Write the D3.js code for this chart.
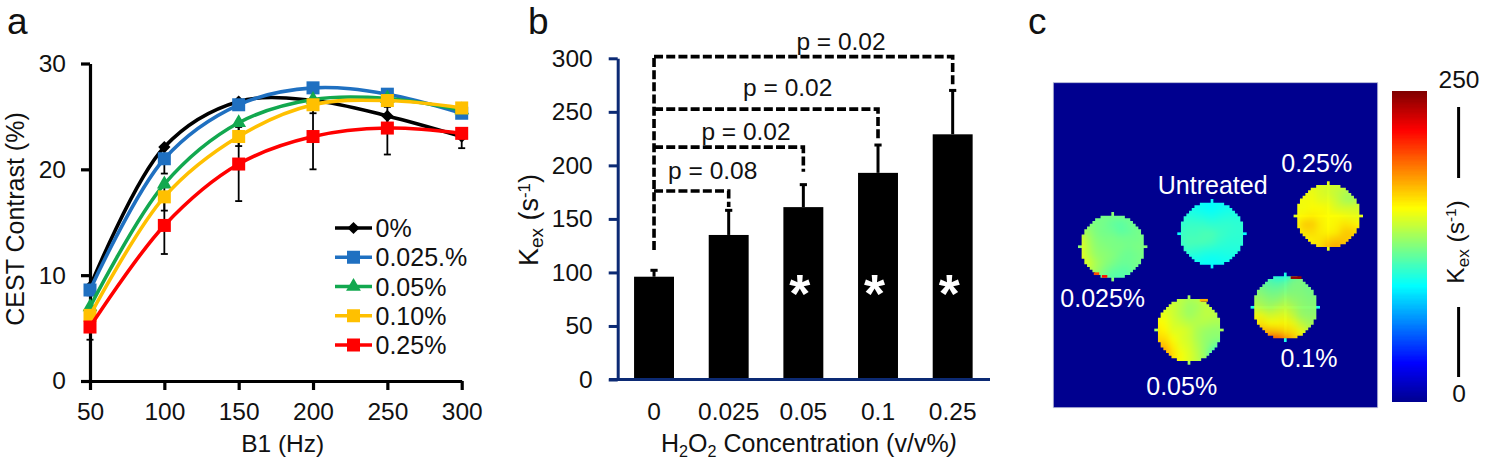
<!DOCTYPE html>
<html><head><meta charset="utf-8">
<script src="https://cdn.jsdelivr.net/npm/d3@7"></script>
<style>
html,body{margin:0;padding:0;background:#fff}
svg{display:block}
text{font-family:"Liberation Sans",Arial,sans-serif;fill:#111}
</style></head><body>
<div id="chart"></div>
<script>
// ---- Panel a ----
const b1Values = [50,100,150,200,250,300];
const seriesNames = ["0%","0.025.%","0.05%","0.10%","0.25%"];
const contrast0 = [8.9,22.1,26.4,26.5,25.05,23.1];
const contrast025 = [8.6,21.0,26.1,27.7,27.1,25.3];
const contrast05 = [7.0,18.6,24.4,26.6,26.7,25.6];
const contrast10 = [6.2,17.4,23.1,26.1,26.5,25.8];
const contrast25 = [5.1,14.7,20.5,23.1,23.9,23.4];
const err0 = [0.7,1.6,0.6,0.8,0.7,1.1];
const err025 = [0.5,1.4,0.5,0.5,0.5,0.4];
const err05 = [0.6,1.0,0.8,0.5,0.5,0.4];
const err10 = [0.6,1.3,0.9,0.8,0.6,0.3];
const err25 = [1.2,2.7,3.5,3.1,2.5,0.5];
const yTicksA = [0,10,20,30];
// ---- Panel b ----
const concentrations = ["0","0.025","0.05","0.1","0.25"];
const kex = [96,135,161,193,229];
const kexErrTop = [102,158,182,219,270];
const starred = [false,false,true,true,true];
const yTicksB = [0,50,100,150,200,250,300];
const bracketTo = [1,2,3,4];
const bracketLevel = [176,217,252.5,301.6];
const bracketEnd = [161,194,224,273];
const bracketStart = 121;
const bracketText = ["p = 0.08","p = 0.02","p = 0.02","p = 0.02"];
// ---- Panel c (Kex maps, s^-1) ----
const mapUntreated = [
[98,98,97,95,94,96,98,98,98],[100,100,98,96,95,97,99,99,99],[104,104,103,102,100,102,103,103,103],
[106,108,108,108,106,106,106,105,105],[108,110,110,112,112,108,106,105,105],[108,112,112,112,110,106,104,104,104],
[106,108,106,104,103,102,102,102,102],[100,100,100,98,97,98,99,100,100],[96,96,96,95,95,96,97,98,98]];
const map025 = [
[122,122,122,124,124,124,122,122,122],[126,126,124,122,118,116,120,122,122],[134,130,124,122,120,116,118,122,124],
[148,134,126,124,124,122,122,122,124],[150,136,128,126,124,124,122,124,124],[150,138,130,128,126,122,120,122,124],
[150,144,134,128,124,120,120,122,124],[146,140,132,124,118,116,116,122,124],[140,136,128,118,114,114,116,122,124]];
const map05 = [
[142,142,142,140,136,138,146,146,138],[146,146,144,138,132,134,140,140,136],[152,150,144,138,132,136,140,140,136],
[158,154,146,142,138,138,138,136,136],[162,158,148,148,144,136,132,130,130],[166,164,154,148,144,136,130,128,128],
[174,172,160,150,146,138,130,122,112],[182,180,164,154,148,140,130,110,95],[184,178,162,154,148,140,132,120,100]];
const map10 = [
[112,112,108,100,100,115,125,125,125],[122,120,116,114,118,125,125,122,122],[128,126,122,122,125,126,126,124,124],
[134,132,128,128,134,130,128,126,126],[142,138,134,138,142,136,130,128,128],[154,152,146,148,150,142,132,130,130],
[160,162,156,156,158,152,142,135,135],[166,174,172,170,166,162,152,142,138],[172,184,196,198,186,172,160,150,146]];
const map25 = [
[150,150,150,148,146,146,146,146,146],[152,152,152,148,146,142,138,135,140],[154,154,154,150,150,144,136,134,142],
[154,154,156,156,154,148,146,146,146],[156,158,160,158,156,156,154,152,150],[158,168,168,160,156,158,162,160,156],
[158,164,164,160,158,160,168,168,164],[156,158,160,162,166,170,170,168,164],[154,156,160,164,174,178,170,164,160]];
const mapLabels = ["0.025%","Untreated","0.25%","0.1%","0.05%"];
const nubKex = [128,95,150,100,135];
const kexTicks = ["0","250"];

const W=1486,H=463;
const svg=d3.select("#chart").append("svg").attr("width",W).attr("height",H);
const FS=24.5;
function txt(g,x,y,s,o={}){
  const t=g.append("text").attr("x",x).attr("y",y).attr("font-size",o.fs||FS)
    .attr("text-anchor",o.anchor||"middle").text(s);
  if(o.fill)t.style("fill",o.fill);
  if(o.weight)t.attr("font-weight",o.weight);
  return t;
}
function kexLabel(g,x,y,fs){
  const t=g.append("text").attr("transform",`translate(${x},${y}) rotate(-90)`)
    .attr("text-anchor","middle").attr("font-size",fs);
  t.append("tspan").text("K");
  t.append("tspan").attr("font-size",fs*.7).attr("dy",5).text("ex");
  t.append("tspan").attr("dy",-5).text(" (s");
  t.append("tspan").attr("font-size",fs*.62).attr("dy",-8).text("-1");
  t.append("tspan").attr("dy",8).text(")");
}
txt(svg,7,34,"a",{fs:37,anchor:"start"});
txt(svg,528,34,"b",{fs:37,anchor:"start"});
txt(svg,1028,34,"c",{fs:37,anchor:"start"});

// ===== Panel a =====
const gA=svg.append("g");
const xA=d3.scaleLinear().domain([50,300]).range([90,461.7]);
const yA=d3.scaleLinear().domain([0,30]).range([381,63.5]);
const lineSeries=[
 {name:seriesNames[0],v:contrast0,e:err0,c:"#000000",m:"diamond"},
 {name:seriesNames[1],v:contrast025,e:err025,c:"#1f70c1",m:"square"},
 {name:seriesNames[2],v:contrast05,e:err05,c:"#12a84f",m:"triangle"},
 {name:seriesNames[3],v:contrast10,e:err10,c:"#ffc000",m:"square"},
 {name:seriesNames[4],v:contrast25,e:err25,c:"#ff0000",m:"square",up:true}];
function marker(g,kind,x,y,c){
  if(kind==="square"){g.append("rect").attr("x",x-6.5).attr("y",y-6.5).attr("width",13).attr("height",13).attr("fill",c);}
  else{
    const sym=kind==="diamond"?d3.symbolDiamond2||d3.symbolDiamond:d3.symbolTriangle;
    g.append("path").attr("transform",`translate(${x},${y})`).attr("fill",c)
     .attr("d",d3.symbol().type(sym).size(kind==="diamond"?95:95)());
  }
}
// axes
const axYA=gA.append("g").attr("transform","translate(90,0)")
  .call(d3.axisLeft(yA).tickValues(yTicksA).tickSize(9).tickPadding(15).tickSizeOuter(0));
const axXA=gA.append("g").attr("transform","translate(0,381)")
  .call(d3.axisBottom(xA).tickValues(b1Values).tickSize(9).tickPadding(13).tickSizeOuter(0));
[axYA,axXA].forEach(a=>{a.selectAll("path,line").attr("stroke","#000").attr("stroke-width",3.2);
  a.selectAll("text").attr("font-size",FS).style("fill","#111");});
// error bars behind lines
const errG=gA.append("g");
lineSeries.forEach(s=>{
  s.v.forEach((v,i)=>{
    const x=xA(b1Values[i]);
    const top=s.up?v+s.e[i]:v, bot=v-s.e[i];
    errG.append("line").attr("x1",x).attr("x2",x).attr("y1",yA(bot)).attr("y2",yA(top)).attr("stroke","#000").attr("stroke-width",1.8);
    [bot,top].forEach(e=>errG.append("line").attr("x1",x-3.5).attr("x2",x+3.5).attr("y1",yA(e)).attr("y2",yA(e)).attr("stroke","#000").attr("stroke-width",1.8));
  });
});
const lineGen=d3.line().x((d,i)=>xA(b1Values[i])).y(d=>yA(d)).curve(d3.curveCatmullRom.alpha(0.5));
lineSeries.forEach(s=>{
  gA.append("path").attr("d",lineGen(s.v)).attr("fill","none").attr("stroke",s.c).attr("stroke-width",3.6);
  s.v.forEach((v,i)=>marker(gA,s.m,xA(b1Values[i]),yA(v),s.c));
});
txt(gA,282.7,452,"B1 (Hz)");
gA.append("text").attr("transform","translate(24,219) rotate(-90)").attr("text-anchor","middle").attr("font-size",FS+.5).text("CEST Contrast (%)");
// legend
const legY=d3.scalePoint().domain(seriesNames).range([228,345]);
lineSeries.forEach(s=>{
  const y=legY(s.name);
  gA.append("line").attr("x1",335).attr("x2",372).attr("y1",y).attr("y2",y).attr("stroke",s.c).attr("stroke-width",3.6);
  marker(gA,s.m,353.5,y,s.c);
  txt(gA,375.5,y+9,s.name,{anchor:"start",fs:25});
});

// ===== Panel b =====
const gB=svg.append("g");
const navy="#0c2a74";
const xB=d3.scaleBand().domain(concentrations).range([616.7,990]).paddingInner(.465).paddingOuter(.2325);
const yB=d3.scaleLinear().domain([0,300]).range([379.5,58.3]);
const cx=c=>xB(c)+xB.bandwidth()/2;
gB.selectAll("rect.bar").data(kex).join("rect").attr("class","bar")
  .attr("x",(d,i)=>xB(concentrations[i])).attr("width",xB.bandwidth())
  .attr("y",d=>yB(d)).attr("height",d=>yB(0)-yB(d)).attr("fill","#000");
kex.forEach((v,i)=>{
  const x=cx(concentrations[i]);
  gB.append("line").attr("x1",x).attr("x2",x).attr("y1",yB(v)).attr("y2",yB(kexErrTop[i])).attr("stroke","#000").attr("stroke-width",3);
  gB.append("line").attr("x1",x-3.6).attr("x2",x+3.6).attr("y1",yB(kexErrTop[i])).attr("y2",yB(kexErrTop[i])).attr("stroke","#000").attr("stroke-width",3);
  if(starred[i]) txt(gB,x-3.5,yB(0)-68,"*",{fs:54,fill:"#fff",weight:"bold"});
});
const axYB=gB.append("g").attr("transform","translate(617.7,0)")
  .call(d3.axisLeft(yB).tickValues(yTicksB).tickSize(9).tickPadding(16).tickSizeOuter(0));
axYB.selectAll("path,line").attr("stroke",navy).attr("stroke-width",3);
axYB.selectAll("text").attr("font-size",FS).style("fill","#111");
const axXB=gB.append("g").attr("transform","translate(0,379.5)")
  .call(d3.axisBottom(xB).tickSize(0).tickPadding(23.5));
axXB.select("path").remove();
axXB.selectAll("text").attr("font-size",FS).style("fill","#111");
gB.append("line").attr("x1",609).attr("x2",990).attr("y1",379.5).attr("y2",379.5).attr("stroke",navy).attr("stroke-width",3);
// brackets
const x0=cx(concentrations[0]);
const dash={"stroke":"#000","stroke-width":3.6,"stroke-dasharray":"9 3.2","fill":"none"};
function dashed(p){const e=gB.append("path").attr("d",p);Object.entries(dash).forEach(([k,v])=>e.attr(k,v));}
dashed(`M${x0},${yB(bracketStart)}V${yB(bracketLevel[3])}`);
bracketTo.forEach((t,i)=>{
  const x=cx(concentrations[t]);
  dashed(`M${x0},${yB(bracketLevel[i])}H${x}V${yB(bracketEnd[i])}`);
});
const bracketLabelX=[712.7,746,787.7,841];
const bracketLabelY=[179,140,96,50];
bracketText.forEach((s,i)=>txt(gB,bracketLabelX[i],bracketLabelY[i],s));
// axis labels
const tB=gB.append("text").attr("x",809).attr("y",452).attr("text-anchor","middle").attr("font-size",FS+.5);
tB.append("tspan").text("H");
tB.append("tspan").attr("font-size",FS*.66).attr("dy",5).text("2");
tB.append("tspan").attr("dy",-5).text("O");
tB.append("tspan").attr("font-size",FS*.66).attr("dy",5).text("2");
tB.append("tspan").attr("dy",-5).text(" Concentration (v/v%");
tB.append("tspan").attr("font-style","italic").text(")");
kexLabel(gB,538,220,27);

// ===== Panel c =====
const gC=svg.append("g");
const jet=d3.scaleLinear().domain([0,.125,.375,.625,.875,1].map(d=>d*250))
  .range(["#00008f","#0000ff","#00ffff","#ffff00","#ff0000","#800000"]);
gC.append("rect").attr("x",1053.3).attr("y",82.7).attr("width",324.4).attr("height",325)
  .attr("fill",jet(0)).attr("stroke","#b9bdd8").attr("stroke-width",.8);
const defs=svg.append("defs");
const blur=defs.append("filter").attr("id","soft").attr("x","-30%").attr("y","-30%").attr("width","160%").attr("height","160%")
  .attr("color-interpolation-filters","sRGB");
blur.append("feGaussianBlur").attr("stdDeviation",3.2);
const discCx=[1112.7,1212,1328.3,1285.3,1189];
const discCy=[246.7,233.7,216,307.3,330];
const discMaps=[map025,mapUntreated,map25,map10,map05];
const px=2.7, rPx=11.85, cell=8;
const pxRange=d3.range(-12,13);
discMaps.forEach((m,k)=>{
  const cxD=discCx[k],cyD=discCy[k];
  // staircase outline as one polygon (no seams between pixels)
  const rows=pxRange.map(j=>{
    const on=pxRange.filter(i=>i*i+j*j<=rPx*rPx);
    return on.length?{j,a:d3.min(on),b:d3.max(on)}:null;
  }).filter(Boolean);
  let pts=[];
  rows.forEach(r=>{pts.push([r.b+.5,r.j-.5],[r.b+.5,r.j+.5]);});
  rows.slice().reverse().forEach(r=>{pts.push([r.a-.5,r.j+.5],[r.a-.5,r.j-.5]);});
  defs.append("clipPath").attr("id","disc"+k).append("path")
    .attr("d","M"+pts.map(p=>(cxD+p[0]*px).toFixed(2)+","+(cyD+p[1]*px).toFixed(2)).join("L")+"Z");
  const nub=jet(nubKex[k]);
  gC.append("rect").attr("x",cxD-px/2).attr("y",cyD-32-2.7).attr("width",px).attr("height",64+5.4).attr("fill",nub);
  gC.append("rect").attr("x",cxD-32-2.7).attr("y",cyD-px/2).attr("width",64+5.4).attr("height",px).attr("fill",nub);
  const g=gC.append("g").attr("clip-path",`url(#disc${k})`).append("g").attr("filter","url(#soft)");
  m.forEach((row,r)=>row.forEach((v,c)=>{
    const pad=20;
    const xx=cxD+(c-4.5)*cell, yy=cyD+(r-4.5)*cell;
    g.append("rect")
      .attr("x",c===0?xx-pad:xx).attr("y",r===0?yy-pad:yy)
      .attr("width",cell+.3+(c===0||c===8?pad:0)).attr("height",cell+.3+(r===0||r===8?pad:0))
      .attr("fill",jet(v));
  }));
});
// small outlier pixels: [disc, col, row, width in pixels, Kex]
const outliers=[[0,-4,11,2,215],[0,-7,10,2,200],[3,2,-11,4,245],[4,4,-11,3,175]];
outliers.forEach(o=>{
  gC.append("rect").attr("x",discCx[o[0]]+o[1]*px).attr("y",discCy[o[0]]+(o[2]-.5)*px)
    .attr("width",o[3]*px).attr("height",px).attr("fill",jet(o[4]));
});
const mapLabelX=[1102.7,1212.7,1316.7,1309,1181.7];
const mapLabelY=[307.3,194,171.7,367,395];
mapLabels.forEach((s,i)=>txt(gC,mapLabelX[i],mapLabelY[i],s,{fs:25,fill:"#fff"}));
// colour bar
const yBar=d3.scaleLinear().domain([0,250]).range([401,90.7]);
d3.range(0,250,1).forEach(v=>{
  gC.append("rect").attr("x",1392.3).attr("width",34.4).attr("shape-rendering","crispEdges")
    .attr("y",yBar(v+1)).attr("height",yBar(v)-yBar(v+1)+1).attr("fill",jet(v+.5));
});
txt(gC,1459,402,kexTicks[0]);
txt(gC,1459,88,kexTicks[1]);
gC.append("line").attr("x1",1458.6).attr("x2",1458.6).attr("y1",107).attr("y2",178).attr("stroke","#000").attr("stroke-width",3);
gC.append("line").attr("x1",1458.6).attr("x2",1458.6).attr("y1",307).attr("y2",377).attr("stroke","#000").attr("stroke-width",3);
kexLabel(gC,1464,242,FS);
</script>
</body></html>
